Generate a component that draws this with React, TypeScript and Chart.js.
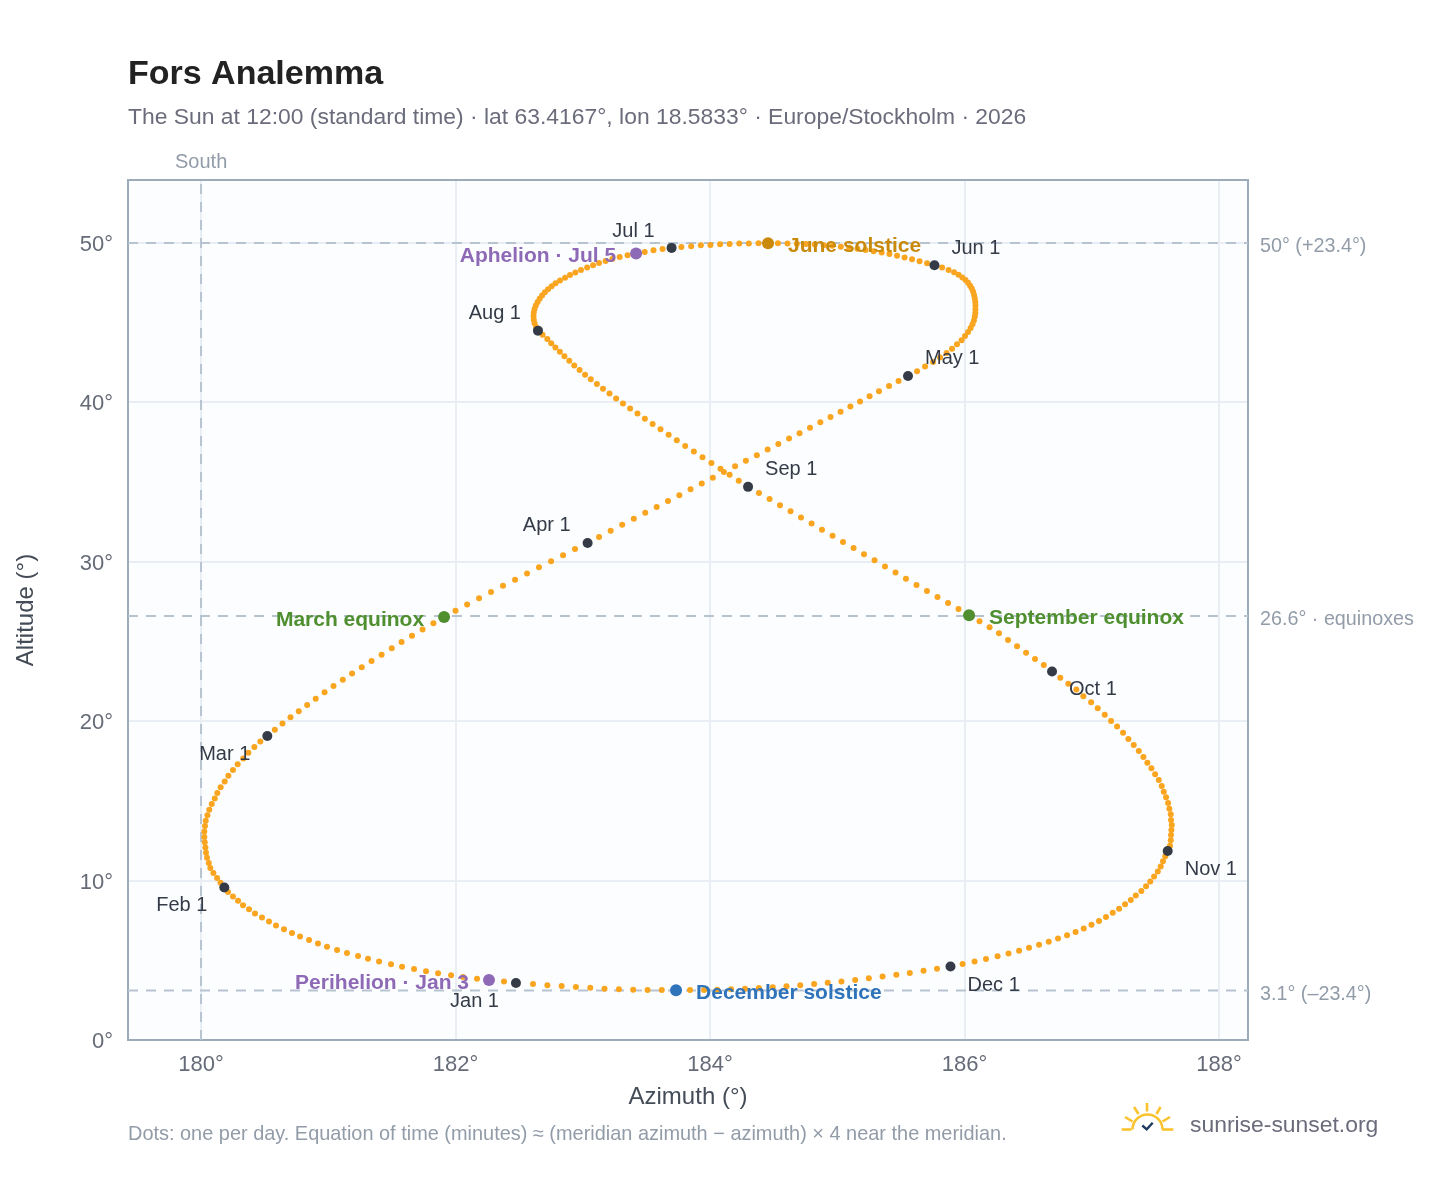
import React, { useEffect, useRef } from "react";
import { Chart, registerables } from "chart.js";

Chart.register(...registerables);

const SOUTH = 180;
// degrees east of south, one per day
const azJan = [2.475,2.381,2.263,2.169,2.059,1.965,1.863,1.768,1.674,1.580,1.493,1.399,1.312,1.234,1.147,1.069,0.990,0.919,0.849,0.778,0.715,0.652,0.589,0.534,0.479,0.424,0.377,0.330,0.291,0.251,0.212];
const azFeb = [0.183,0.153,0.126,0.097,0.073,0.061,0.047,0.039,0.034,0.029,0.026,0.026,0.031,0.037,0.050,0.065,0.084,0.108,0.128,0.154,0.186,0.215,0.251,0.288,0.332,0.372,0.419,0.466];
const azMar = [0.521,0.580,0.640,0.703,0.768,0.834,0.901,0.971,1.041,1.114,1.187,1.263,1.340,1.419,1.499,1.576,1.658,1.741,1.826,1.910,2.000,2.091,2.185,2.279,2.373,2.468,2.562,2.656,2.751,2.845,2.939];
const azApr = [3.038,3.128,3.219,3.310,3.401,3.491,3.581,3.670,3.759,3.847,3.935,4.022,4.109,4.197,4.282,4.368,4.453,4.537,4.621,4.704,4.786,4.867,4.947,5.026,5.103,5.179,5.254,5.328,5.407,5.482];
const azMay = [5.556,5.627,5.690,5.753,5.808,5.859,5.902,5.941,5.977,6.004,6.028,6.048,6.063,6.074,6.081,6.085,6.086,6.086,6.085,6.081,6.075,6.067,6.057,6.044,6.028,6.008,5.983,5.953,5.918,5.875,5.824];
const azJun = [5.764,5.706,5.647,5.588,5.529,5.470,5.410,5.349,5.286,5.223,5.159,5.094,5.028,4.961,4.894,4.824,4.754,4.682,4.609,4.534,4.456,4.381,4.305,4.230,4.154,4.079,4.003,3.928,3.852,3.775];
const azJul = [3.698,3.627,3.556,3.487,3.419,3.352,3.290,3.232,3.179,3.128,3.081,3.034,2.986,2.942,2.900,2.861,2.821,2.786,2.755,2.727,2.702,2.680,2.661,2.645,2.631,2.621,2.615,2.613,2.615,2.621,2.633];
const azAug = [2.648,2.684,2.721,2.752,2.785,2.820,2.856,2.894,2.933,2.975,3.018,3.063,3.111,3.159,3.210,3.262,3.316,3.372,3.430,3.488,3.549,3.611,3.675,3.739,3.805,3.873,3.941,4.011,4.082,4.154,4.226];
const azSep = [4.299,4.385,4.468,4.550,4.633,4.715,4.798,4.880,4.963,5.045,5.128,5.210,5.293,5.375,5.458,5.540,5.623,5.705,5.788,5.871,5.953,6.036,6.118,6.197,6.271,6.342,6.413,6.484,6.554,6.623];
const azOct = [6.688,6.753,6.816,6.879,6.934,6.995,7.047,7.102,7.152,7.199,7.246,7.288,7.330,7.370,7.406,7.437,7.469,7.498,7.527,7.550,7.566,7.584,7.600,7.610,7.621,7.623,7.629,7.626,7.623,7.621,7.615];
const azNov = [7.597,7.578,7.560,7.542,7.519,7.490,7.460,7.427,7.390,7.346,7.307,7.262,7.215,7.165,7.112,7.057,6.998,6.937,6.873,6.806,6.735,6.662,6.586,6.507,6.429,6.346,6.260,6.169,6.079,5.985];
const azDec = [5.890,5.784,5.678,5.570,5.464,5.356,5.248,5.141,5.033,4.925,4.818,4.709,4.601,4.493,4.384,4.275,4.166,4.057,3.953,3.843,3.733,3.621,3.509,3.396,3.284,3.171,3.059,2.946,2.834,2.722,2.609];

const altJan = [3.58,3.67,3.76,3.85,3.95,4.06,4.18,4.31,4.45,4.60,4.75,4.92,5.09,5.27,5.46,5.65,5.85,6.06,6.27,6.49,6.72,6.95,7.19,7.43,7.68,7.94,8.20,8.46,8.73,9.00,9.28];
const altFeb = [9.57,9.87,10.17,10.48,10.79,11.11,11.43,11.75,12.08,12.41,12.74,13.08,13.42,13.76,14.10,14.45,14.80,15.15,15.50,15.86,16.22,16.58,16.94,17.30,17.66,18.02,18.38,18.72];
const altMar = [19.07,19.46,19.85,20.24,20.63,21.02,21.41,21.81,22.20,22.60,22.99,23.39,23.78,24.17,24.57,24.96,25.36,25.75,26.15,26.54,26.93,27.32,27.71,28.10,28.49,28.88,29.27,29.65,30.03,30.41,30.80];
const altApr = [31.18,31.56,31.94,32.32,32.70,33.07,33.44,33.81,34.18,34.55,34.91,35.27,35.63,35.99,36.34,36.69,37.04,37.39,37.73,38.07,38.41,38.75,39.08,39.41,39.74,40.06,40.38,40.70,41.02,41.34];
const altMay = [41.66,41.96,42.25,42.54,42.82,43.10,43.37,43.64,43.90,44.16,44.41,44.66,44.90,45.14,45.38,45.61,45.84,46.07,46.29,46.52,46.74,46.95,47.14,47.32,47.50,47.67,47.84,48.00,48.16,48.31,48.46];
const altJun = [48.60,48.73,48.86,48.98,49.09,49.20,49.30,49.40,49.48,49.56,49.64,49.70,49.76,49.82,49.86,49.90,49.93,49.95,49.97,49.98,49.98,49.98,49.97,49.96,49.94,49.92,49.88,49.85,49.80,49.75];
const altJul = [49.69,49.62,49.54,49.44,49.34,49.23,49.12,49.00,48.87,48.74,48.60,48.46,48.31,48.15,47.99,47.82,47.65,47.47,47.29,47.10,46.91,46.71,46.50,46.29,46.08,45.86,45.64,45.42,45.19,44.96,44.73];
const altAug = [44.50,44.24,43.98,43.71,43.44,43.17,42.89,42.61,42.32,42.03,41.74,41.45,41.15,40.85,40.55,40.24,39.93,39.62,39.30,38.98,38.65,38.31,37.97,37.62,37.27,36.92,36.56,36.20,35.83,35.46,35.08];
const altSep = [34.70,34.32,33.94,33.55,33.17,32.78,32.40,32.01,31.63,31.24,30.86,30.47,30.09,29.70,29.32,28.93,28.55,28.17,27.79,27.41,27.03,26.65,26.27,25.90,25.52,25.09,24.70,24.30,23.90,23.53];
const altOct = [23.12,22.73,22.35,21.98,21.56,21.19,20.81,20.41,20.01,19.66,19.28,18.88,18.51,18.13,17.75,17.40,17.05,16.67,16.31,15.93,15.58,15.23,14.87,14.51,14.16,13.80,13.49,13.17,12.86,12.53,12.19];
const altNov = [11.86,11.53,11.21,10.89,10.57,10.26,9.95,9.65,9.35,9.06,8.78,8.51,8.24,7.98,7.72,7.47,7.23,7.00,6.78,6.57,6.36,6.16,5.97,5.78,5.60,5.42,5.25,5.08,4.92,4.76];
const altDec = [4.61,4.47,4.34,4.21,4.09,3.98,3.87,3.77,3.67,3.59,3.51,3.44,3.37,3.31,3.26,3.22,3.18,3.16,3.14,3.13,3.12,3.13,3.14,3.16,3.19,3.22,3.27,3.32,3.38,3.44,3.51];

const azMonths = [azJan,azFeb,azMar,azApr,azMay,azJun,azJul,azAug,azSep,azOct,azNov,azDec];
const altMonths = [altJan,altFeb,altMar,altApr,altMay,altJun,altJul,altAug,altSep,altOct,altNov,altDec];

const monthLabels = ["Jan 1","Feb 1","Mar 1","Apr 1","May 1","Jun 1","Jul 1","Aug 1","Sep 1","Oct 1","Nov 1","Dec 1"];
const monthLabelPlacement: [CanvasTextAlign, number, number][] = [
  ["right",-17,17],["right",-17,17],["right",-17,17],["right",-17,-19],["left",17,-19],["left",17,-18.5],
  ["right",-17,-18],["right",-17,-18.5],["left",17,-19],["left",17,17],["left",17,17],["left",17,17],
];

const eventLabels = ["Perihelion · Jan 3","March equinox","June solstice","Aphelion · Jul 5","September equinox","December solstice"];
const eventDays: [number, number][] = [[0,3],[2,20],[5,21],[6,5],[8,22],[11,21]];
const eventColors = ["#8e69b6","#4f8f2f","#c98a0b","#8e69b6","#4f8f2f","#2f73ba"];
const eventAlign: CanvasTextAlign[] = ["right","right","left","right","left","left"];

const refAltitudes = [50, 26.6, 3.1];
const refAltLabels = ["50° (+23.4°)","26.6° · equinoxes","3.1° (–23.4°)"];
const xTickValues = [180,182,184,186,188];
const yTickValues = [0,10,20,30,40,50];
const X_MIN = 179.426, X_MAX = 188.228, Y_MIN = 0, Y_MAX = 53.95;

const FONT = '"Liberation Sans", Arial, sans-serif';
const dayPoint = (m: number, d: number) => ({ x: SOUTH + azMonths[m][d - 1], y: altMonths[m][d - 1] });
const allDays = azMonths.flatMap((arr, m) => arr.map((_, i) => dayPoint(m, i + 1)));
const monthPoints = monthLabels.map((_, m) => dayPoint(m, 1));
const eventPoints = eventDays.map(([m, d]) => dayPoint(m, d));

const refLine = (data: {x:number;y:number}[]) => ({
  type: "scatter" as const, data, showLine: true, borderColor: "#b7c4d0", borderWidth: 2,
  borderDash: [10, 8], pointRadius: 0, fill: false, order: 5,
});

const annotations = {
  id: "annotations",
  beforeDraw(chart: any) {
    const { ctx, chartArea: a } = chart;
    ctx.save();
    ctx.fillStyle = "#ffffff";
    ctx.fillRect(0, 0, chart.width, chart.height);
    ctx.fillStyle = "#fbfdff";
    ctx.fillRect(a.left, a.top, a.right - a.left, a.bottom - a.top);
    ctx.restore();
  },
  beforeDatasetsDraw(chart: any) {
    const { ctx, chartArea: a } = chart;
    ctx.save();
    ctx.strokeStyle = "#9cabba";
    ctx.lineWidth = 2;
    ctx.strokeRect(a.left, a.top, a.right - a.left, a.bottom - a.top);
    ctx.restore();
  },
  afterDatasetsDraw(chart: any) {
    const { ctx, scales } = chart;
    const X = scales.x, Y = scales.y;
    const text = (s: string, x: number, y: number, font: string, color: string, align: CanvasTextAlign = "left") => {
      ctx.font = font; ctx.fillStyle = color; ctx.textAlign = align; ctx.textBaseline = "alphabetic";
      ctx.fillText(s, x, y);
    };
    ctx.save();
    text("Fors Analemma", 128, 84, `bold 34px ${FONT}`, "#222222");
    text("The Sun at 12:00 (standard time) · lat 63.4167°, lon 18.5833° · Europe/Stockholm · 2026", 128, 124, `22.88px ${FONT}`, "#6b6c7b");
    text("South", 175, 168, `20px ${FONT}`, "#929ca8");
    text("Dots: one per day. Equation of time (minutes) ≈ (meridian azimuth − azimuth) × 4 near the meridian.", 128, 1140, `19.93px ${FONT}`, "#929ca8");
    text("sunrise-sunset.org", 1190, 1132, `22.9px ${FONT}`, "#6b6c7b");

    refAltitudes.forEach((v, i) => {
      text(refAltLabels[i], 1260, Y.getPixelForValue(v) + 9, `19.75px ${FONT}`, "#929ca8");
    });
    monthLabels.forEach((s, i) => {
      const p = monthPoints[i];
      const [al, dx, dy] = monthLabelPlacement[i];
      text(s, X.getPixelForValue(p.x) + dx, Y.getPixelForValue(p.y) + dy + 7, `20px ${FONT}`, "#343b47", al);
    });
    eventLabels.forEach((s, i) => {
      const p = eventPoints[i];
      const dir = eventAlign[i] === "left" ? 20 : -20;
      text(s, X.getPixelForValue(p.x) + dir, Y.getPixelForValue(p.y) + 8.6, `bold 21px ${FONT}`, eventColors[i], eventAlign[i]);
    });

    // logo
    ctx.lineCap = "butt";
    ctx.strokeStyle = "#f9c22e";
    ctx.lineWidth = 2.6;
    const seg = (x1: number, y1: number, x2: number, y2: number) => {
      ctx.beginPath(); ctx.moveTo(x1, y1); ctx.lineTo(x2, y2); ctx.stroke();
    };
    seg(1121.7, 1129.5, 1131.5, 1129.5);
    seg(1162, 1129.5, 1173.3, 1129.5);
    ctx.beginPath(); ctx.arc(1147.5, 1129.5, 15, Math.PI, 2 * Math.PI); ctx.stroke();
    seg(1147, 1103, 1147, 1111.5);
    seg(1134, 1107, 1138.5, 1114);
    seg(1156.5, 1114, 1160.5, 1107);
    seg(1125, 1117, 1132.5, 1121.5);
    seg(1162.5, 1121.5, 1170, 1117);
    ctx.strokeStyle = "#1f3a5f";
    ctx.lineWidth = 2.4;
    ctx.beginPath(); ctx.moveTo(1142.3, 1125.5); ctx.lineTo(1146.7, 1129.3); ctx.lineTo(1152.7, 1122.7); ctx.stroke();
    ctx.restore();
  },
};

export default function App() {
  const ref = useRef<HTMLCanvasElement>(null);
  useEffect(() => {
    const chart = new Chart(ref.current!, {
      type: "scatter",
      data: {
        datasets: [
          ...refAltitudes.map((v) => refLine([{ x: X_MIN, y: v }, { x: X_MAX, y: v }])),
          refLine([{ x: SOUTH, y: Y_MIN }, { x: SOUTH, y: Y_MAX }]),
          { data: allDays, backgroundColor: "#f9a51f", pointRadius: 3, pointBorderWidth: 0, order: 3 },
          { data: monthPoints, backgroundColor: "#343b47", pointRadius: 5, pointBorderWidth: 0, order: 2 },
          { data: eventPoints, backgroundColor: eventColors, pointRadius: 6, pointBorderWidth: 0, order: 1 },
        ] as any,
      },
      options: {
        animation: false,
        responsive: false,
        devicePixelRatio: 1,
        layout: { padding: { top: 180, right: 200, left: 0, bottom: 0 } },
        plugins: { legend: { display: false }, tooltip: { enabled: false } },
        scales: {
          x: {
            type: "linear", min: X_MIN, max: X_MAX,
            afterBuildTicks: (s: any) => { s.ticks = xTickValues.map((value) => ({ value })); },
            afterFit: (s: any) => { s.height = 148; },
            grid: { color: "#e8eef3", lineWidth: 2, drawTicks: false },
            border: { display: false },
            ticks: { padding: 12, maxRotation: 0, autoSkip: false, color: "#666b78", font: { family: FONT, size: 22 }, callback: (v: any) => `${v}°` },
            title: { display: true, text: "Azimuth (°)", color: "#444c58", font: { family: FONT, size: 24 }, padding: { top: 0, bottom: 76 } },
          },
          y: {
            type: "linear", min: Y_MIN, max: Y_MAX,
            afterBuildTicks: (s: any) => { s.ticks = yTickValues.map((value) => ({ value })); },
            afterFit: (s: any) => {
              s.width = 128;
              if (!s.__shifted && s._computeLabelItems) {
                const orig = s._computeLabelItems.bind(s);
                s._computeLabelItems = (area: any) => orig(area).map((it: any) => ({ ...it, textOffset: it.textOffset + 2 }));
                s.__shifted = true;
              }
            },
            grid: { color: "#e8eef3", lineWidth: 2, drawTicks: false },
            border: { display: false },
            ticks: { padding: 15, autoSkip: false, color: "#666b78", font: { family: FONT, size: 22 }, callback: (v: any) => `${v}°` },
            title: { display: true, text: "Altitude (°)", color: "#444c58", font: { family: FONT, size: 24 }, padding: { top: 12, bottom: 0 } },
          },
        },
      } as any,
      plugins: [annotations],
    });
    return () => chart.destroy();
  }, []);
  return <canvas ref={ref} width={1448} height={1188} style={{ position: "absolute", left: 0, top: 0, display: "block" }} />;
}
